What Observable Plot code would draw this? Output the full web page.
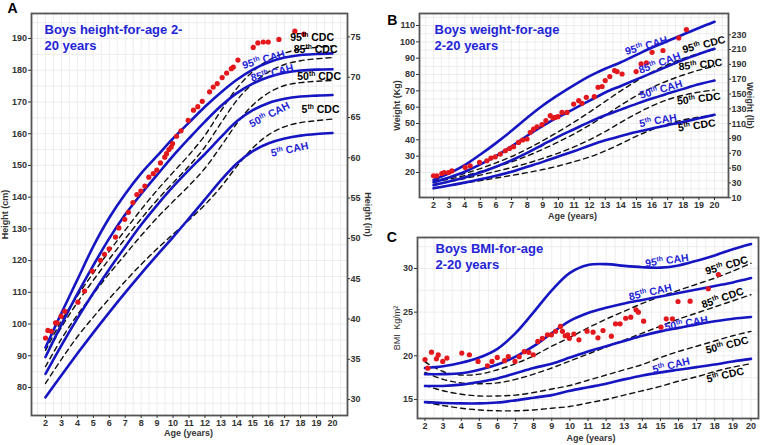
<!DOCTYPE html>
<html>
<head>
<meta charset="utf-8">
<script src="https://cdn.jsdelivr.net/npm/d3@7"></script>
<script src="https://cdn.jsdelivr.net/npm/@observablehq/plot@0.6"></script>
<style>
  html, body { margin: 0; padding: 0; background: #fff; }
  #fig { position: relative; width: 760px; height: 445px; overflow: hidden; background: #fff; }
  #fig > svg { position: absolute; }
</style>
</head>
<body>
<div id="fig"></div>
<script>
// ---- reference curves, one value per year of age (2..20) ----
const AGE = d3.range(2, 21);

// Height-for-age (cm)
const heightCAH5  = [76.9, 83.9, 90.7, 97.3, 103.7, 109.9, 115.9, 121.7, 127.4, 133.3, 139.3, 145.3, 150.6, 154.5, 157.0, 158.5, 159.4, 159.9, 160.2];
const heightCAH50 = [84.3, 93.3, 101.8, 109.8, 117.3, 124.4, 131.3, 137.5, 143.3, 148.6, 153.6, 158.9, 163.9, 167.4, 169.7, 171.0, 171.7, 172.0, 172.2];
const heightCAH85 = [89.6, 99.8, 109.5, 118.5, 127.0, 134.5, 141.0, 147.0, 153.0, 158.5, 163.8, 168.7, 172.8, 175.8, 177.9, 179.2, 179.9, 180.2, 180.3];
const heightCAH95 = [92.6, 103.5, 114.0, 124.5, 133.5, 141.0, 147.5, 153.0, 158.5, 163.5, 168.5, 173.0, 177.0, 180.2, 182.5, 184.0, 184.8, 185.1, 185.3];
const heightCDC5  = [81.3, 88.9, 96.0, 102.2, 108.0, 113.5, 118.8, 123.7, 128.3, 132.8, 137.6, 143.2, 149.7, 155.5, 159.7, 162.2, 163.5, 164.1, 164.6];
const heightCDC50 = [86.6, 95.3, 102.9, 109.5, 115.9, 121.9, 127.9, 133.5, 138.6, 143.6, 149.1, 156.0, 163.2, 169.0, 172.9, 175.2, 176.1, 176.5, 176.8];
const heightCDC85 = [89.8, 99.0, 106.8, 113.8, 120.5, 126.9, 133.2, 139.1, 144.5, 149.8, 155.8, 163.3, 170.5, 175.8, 179.5, 181.8, 183.0, 183.6, 184.0];
const heightCDC95 = [91.7, 101.0, 108.9, 116.1, 123.0, 129.6, 136.1, 142.2, 147.8, 153.3, 159.5, 167.2, 174.3, 179.6, 183.2, 185.4, 186.6, 187.2, 187.6];

// Weight-for-age (kg)
const weightCAH5  = [10.3, 12.0, 13.8, 15.8, 18.0, 20.5, 23.5, 26.5, 29.8, 33.0, 36.5, 39.7, 42.3, 44.8, 47.0, 49.0, 51.0, 53.2, 55.3];
const weightCAH50 = [12.2, 14.5, 17.0, 20.0, 23.5, 27.5, 32.0, 37.0, 42.0, 46.5, 51.0, 55.0, 58.5, 62.0, 65.3, 68.3, 71.2, 74.0, 76.3];
const weightCAH85 = [14.0, 17.0, 20.5, 25.0, 30.0, 36.0, 42.5, 48.5, 54.0, 59.0, 64.0, 69.0, 73.0, 77.0, 81.0, 85.0, 89.0, 92.5, 95.7];
const weightCAH95 = [15.5, 19.5, 24.5, 31.0, 38.0, 45.5, 53.5, 61.0, 67.5, 73.5, 79.0, 83.5, 87.5, 92.0, 96.5, 100.5, 104.5, 108.5, 112.3];
const weightCDC5  = [10.6, 12.1, 13.6, 15.0, 16.6, 18.2, 19.9, 21.8, 24.0, 26.6, 29.5, 33.2, 37.6, 42.2, 46.3, 49.7, 52.2, 53.9, 55.0];
const weightCDC50 = [12.7, 14.3, 16.3, 18.4, 20.7, 23.0, 25.6, 28.6, 31.9, 35.7, 40.0, 45.1, 50.7, 56.0, 60.8, 64.6, 67.3, 69.2, 70.6];
const weightCDC85 = [14.1, 15.9, 18.1, 20.6, 23.4, 26.5, 30.1, 34.2, 38.7, 43.6, 49.0, 55.0, 61.2, 67.0, 72.0, 76.2, 79.7, 82.7, 85.0];
const weightCDC95 = [15.2, 16.9, 19.4, 22.4, 25.9, 29.8, 34.4, 39.5, 45.0, 50.8, 57.0, 63.5, 70.0, 76.0, 81.5, 86.0, 89.8, 92.8, 95.3];

// BMI-for-age (kg/m²)
const bmiCAH5  = [14.7, 14.6, 14.55, 14.55, 14.65, 14.9, 15.2, 15.5, 16.0, 16.4, 16.8, 17.3, 17.75, 18.1, 18.4, 18.7, 19.0, 19.35, 19.65];
const bmiCAH50 = [16.55, 16.55, 16.7, 17.0, 17.4, 18.0, 18.6, 19.1, 19.8, 20.5, 21.1, 21.7, 22.3, 22.8, 23.2, 23.6, 23.95, 24.25, 24.45];
const bmiCAH85 = [17.9, 17.9, 18.0, 18.4, 19.0, 19.9, 21.1, 22.6, 24.0, 24.9, 25.5, 26.0, 26.4, 26.8, 27.2, 27.6, 28.0, 28.4, 28.9];
const bmiCAH95 = [18.6, 18.8, 19.2, 19.8, 20.8, 22.6, 25.0, 27.5, 29.5, 30.4, 30.5, 30.3, 30.15, 30.1, 30.35, 30.9, 31.5, 32.2, 32.8];
const bmiCDC5  = [14.7, 14.3, 14.0, 13.8, 13.7, 13.7, 13.8, 14.0, 14.2, 14.6, 15.0, 15.5, 16.0, 16.5, 17.1, 17.6, 18.2, 18.7, 19.1];
const bmiCDC50 = [16.6, 16.0, 15.6, 15.4, 15.4, 15.5, 15.8, 16.2, 16.6, 17.2, 17.8, 18.4, 19.0, 19.8, 20.5, 21.1, 21.7, 22.3, 22.8];
const bmiCDC85 = [18.1, 17.3, 16.9, 16.8, 16.9, 17.3, 17.9, 18.6, 19.4, 20.2, 21.0, 21.8, 22.6, 23.4, 24.2, 24.9, 25.6, 26.3, 27.0];
const bmiCDC95 = [19.3, 18.2, 17.8, 17.9, 18.4, 19.1, 20.0, 21.1, 22.1, 23.2, 24.2, 25.1, 26.0, 26.8, 27.5, 28.2, 28.9, 29.7, 30.6];

// ---- patient measurements ----
const visitAge = [2.0, 2.15, 2.36, 2.63, 2.73, 2.98, 3.21, 4.03, 4.45, 4.93, 5.45, 5.70, 5.99, 6.39, 6.6, 6.97, 7.2, 7.48, 7.73, 7.98,
  8.23, 8.48, 8.76, 8.98, 9.21, 9.48, 9.59, 9.74, 9.88, 9.97, 10.22, 10.5, 10.95, 11.28, 11.55, 11.83, 12.29, 12.52, 12.77, 13.08,
  13.36, 13.65, 13.78, 14.07, 15.03, 15.32, 15.66, 15.97, 16.64, 17.64, 18.2];
const heightCm = [95.6, 98.0, 97.7, 100.4, 100.4, 102.5, 104.0, 106.9, 110.4, 116.7, 120.1, 122.0, 123.7, 127.4, 130.3, 133.0, 135.2, 138.3, 140.8, 141.9,
  143.5, 146.3, 147.4, 148.5, 150.8, 152.6, 153.7, 155.0, 155.8, 156.9, 159.2, 160.9, 164.2, 167.4, 168.5, 170.2, 173.2, 174.7, 175.8, 177.7,
  179.1, 180.5, 181.0, 183.2, 187.2, 188.6, 188.9, 188.9, 189.7, 192.3, 191.4];
const bmiValue = [19.58, 18.58, 20.42, 19.65, 20.1, 19.36, 19.74, 20.31, 20.12, 19.36, 18.86, 19.36, 19.82, 19.44, 19.9, 19.36, 19.9, 20.47, 20.4, 20.12,
  21.65, 22.0, 22.4, 22.4, 22.8, 23.37, 22.8, 22.3, 22.4, 22.0, 22.5, 21.83, 22.82, 22.71, 22.06, 22.9, 22.25, 23.66, 23.66, 24.3,
  24.42, 25.27, 25.0, 23.97, 23.28, 24.24, 24.24, 26.22, 26.26, 27.68, 29.31];
const weightAge = [2.0, 2.21, 2.53, 2.68, 2.96, 3.18, 4.03, 4.35, 4.95, 5.42, 5.68, 5.96, 6.28, 6.6, 6.87, 7.13, 7.45, 7.71, 7.99, 8.2,
  8.41, 8.63, 8.95, 9.2, 9.48, 9.65, 9.8, 9.97, 10.23, 10.55, 10.98, 11.3, 11.51, 11.79, 12.3, 12.54, 12.8, 13.0, 13.29, 13.6,
  13.76, 14.08, 14.98, 15.3, 15.64, 16.0, 16.7, 17.71, 18.2];
const weightKg = [18.0, 18.0, 19.4, 20.0, 20.0, 21.0, 23.1, 24.1, 26.2, 27.2, 28.8, 29.6, 31.3, 33.3, 34.7, 35.8, 38.4, 39.9, 40.5, 44.6,
  46.6, 48.0, 49.3, 51.7, 54.8, 53.4, 53.8, 54.2, 56.8, 56.8, 61.9, 64.0, 62.4, 66.0, 66.4, 72.2, 72.6, 76.3, 78.7, 82.4,
  81.8, 80.3, 81.8, 86.5, 87.1, 93.6, 94.7, 102.4, 107.5];

// ---- axis tick values ----
const ageTicks = d3.range(2, 21);
const heightTicks = d3.range(80, 191, 10);
const inchTicks = d3.range(30, 76, 5);
const weightTicks = d3.range(20, 111, 10);
const poundTicks = d3.range(10, 231, 20);
const bmiTicks = [15, 20, 25, 30];

// ---- styling ----
const FONT = "'Liberation Sans', Arial, Helvetica, sans-serif";
const BLUE_LINE = "#1515c2";
const BLUE_TEXT = "#2424d6";
const RED = "#e3171c";
const INK = "#111";
const AXIS = "#333";

function curveTable(series) {
  return series.flatMap(([key, values]) => values.map((v, i) => ({age: AGE[i], v, key})));
}
function valueAt(values, age) {
  const i = Math.max(0, Math.min(values.length - 2, Math.floor(age - AGE[0])));
  const t = age - AGE[i];
  return values[i] * (1 - t) + values[i + 1] * t;
}
function stepsWithin([a, b], step) {
  return d3.range(Math.ceil(a / step) * step, b + 1e-9, step).filter(v => v >= a && v <= b);
}

// "95th CAH" -> 95 + raised "th" + " CAH"
function raiseOrdinals(svg) {
  const NS = "http://www.w3.org/2000/svg";
  svg.querySelectorAll("text, tspan").forEach(t => {
    if (t.children.length) return;
    const m = /^(\d+)th (.+)$/.exec(t.textContent);
    if (!m) return;
    t.textContent = "";
    const num = document.createElementNS(NS, "tspan");
    num.textContent = m[1];
    const sup = document.createElementNS(NS, "tspan");
    sup.textContent = "th";
    sup.setAttribute("font-size", "0.65em");
    sup.setAttribute("dy", "-0.55em");
    const rest = document.createElementNS(NS, "tspan");
    rest.textContent = "\u00a0" + m[2];
    rest.setAttribute("dy", "0.3575em");
    t.append(num, sup, rest);
  });
}

function panel(cfg) {
  const xd = cfg.xDomain, yd = cfg.yDomain;
  const marks = [
    Plot.gridX(stepsWithin(xd, 0.5), {stroke: "#e8e8e8", strokeOpacity: 1, strokeWidth: 0.8}),
    Plot.gridY(stepsWithin(yd, cfg.yGridStep), {stroke: "#e8e8e8", strokeOpacity: 1, strokeWidth: 0.8}),
    Plot.line(curveTable(cfg.cdc), {x: "age", y: "v", z: "key", stroke: INK, strokeWidth: 1.4,
      strokeDasharray: "5,4", curve: "catmull-rom"}),
    Plot.line(curveTable(cfg.cah), {x: "age", y: "v", z: "key", stroke: BLUE_LINE, strokeWidth: 2.6,
      curve: "catmull-rom"}),
    Plot.dot(d3.zip(cfg.pointAge, cfg.pointValue), {x: d => d[0], y: d => d[1], r: 2.6, fill: RED}),
    Plot.frame({stroke: "#555", strokeWidth: 1.8}),
    Plot.axisX(ageTicks, {anchor: "bottom", tickSize: 3, tickPadding: 1.5, fontSize: 9, fontWeight: "bold",
      color: AXIS, label: null}),
    Plot.axisY(cfg.yTicks, {anchor: "left", tickSize: 3, tickPadding: 1.5, fontSize: 9, fontWeight: "bold",
      color: AXIS, label: null}),
    // panel letter and title
    Plot.text([cfg.letter], {frameAnchor: "top-left", textAnchor: "middle", lineAnchor: "middle",
      dx: cfg.letterPos[0], dy: cfg.letterPos[1], fontSize: 14, fontWeight: "bold", fill: "#000"}),
    Plot.text([cfg.title], {frameAnchor: "top-left", textAnchor: "start", lineAnchor: "top",
      dx: cfg.titlePos[0], dy: cfg.titlePos[1], fontSize: 13, fontWeight: "bold", fill: BLUE_TEXT,
      lineHeight: cfg.titleLine}),
    // axis titles
    Plot.text(["Age (years)"], {frameAnchor: "bottom", textAnchor: "middle", lineAnchor: "middle",
      dx: cfg.xLabelPos[0], dy: cfg.xLabelPos[1], fontSize: 9, fontWeight: "bold", fill: AXIS}),
    Plot.text([cfg.yLabel], {frameAnchor: "left", textAnchor: "middle", lineAnchor: "middle",
      dx: cfg.yLabelDx, rotate: -90, fontSize: 9, fontWeight: cfg.yLabelWeight || "bold", fill: AXIS})
  ];
  if (cfg.right) {
    marks.push(
      Plot.axisY(cfg.right.ticks, {anchor: "right", tickSize: 2, tickPadding: 1, fontSize: 9, fontWeight: "bold",
        color: AXIS, label: null, tickFormat: cfg.right.format}),
      Plot.text([cfg.right.label], {frameAnchor: "right", textAnchor: "middle", lineAnchor: "middle",
        dx: cfg.right.dx, rotate: 90, fontSize: 9, fontWeight: "bold", fill: AXIS})
    );
  }
  for (const lab of cfg.labels) {
    const isCAH = lab.text.endsWith("CAH");
    marks.push(Plot.text([lab], {
      x: d => d.age, y: d => valueAt(d.values, d.age), text: d => d.text,
      rotate: lab.angle, dy: lab.dy, textAnchor: "middle",
      fontSize: 10.5, fontWeight: "bold", fill: isCAH ? BLUE_TEXT : "#000"
    }));
  }
  const svg = Plot.plot({
    width: cfg.width, height: cfg.height,
    marginTop: cfg.margin[0], marginRight: cfg.margin[1], marginBottom: cfg.margin[2], marginLeft: cfg.margin[3],
    x: {domain: xd},
    y: {domain: yd},
    style: {fontFamily: FONT, fontSize: "9px", background: "transparent", overflow: "visible"},
    marks
  });
  svg.style.left = cfg.left + "px";
  svg.style.top = cfg.top + "px";
  raiseOrdinals(svg);
  document.getElementById("fig").append(svg);
}

// A: height-for-age
panel({
  left: 0, top: 0, width: 380, height: 445, margin: [13, 33, 30, 31],
  xDomain: [1.122, 20.941], yDomain: [71.18, 197.88], yGridStep: 5, yTicks: heightTicks,
  cah: [["5", heightCAH5], ["50", heightCAH50], ["85", heightCAH85], ["95", heightCAH95]],
  cdc: [["5", heightCDC5], ["50", heightCDC50], ["85", heightCDC85], ["95", heightCDC95]],
  pointAge: visitAge, pointValue: heightCm,
  letter: "A", letterPos: [-19, -4.5],
  title: "Boys height-for-age 2-\n20 years", titlePos: [13, 8], titleLine: 1.3,
  xLabelPos: [-1, 18], yLabel: "Height (cm)", yLabelDx: -26,
  right: {ticks: inchTicks.map(d => d * 2.54), format: d => String(Math.round(d / 2.54)), label: "Height (in)", dx: 20},
  labels: [
    {text: "95th CAH", values: heightCAH95, age: 15.68, dy: -5, angle: -16},
    {text: "85th CAH", values: heightCAH85, age: 16.21, dy: -3, angle: -14},
    {text: "50th CAH", values: heightCAH50, age: 16.05, dy: 12, angle: -27},
    {text: "5th CAH", values: heightCAH5, age: 17.31, dy: 12, angle: -12},
    {text: "95th CDC", values: heightCDC95, age: 18.72, dy: -10.4, angle: 0},
    {text: "85th CDC", values: heightCDC85, age: 18.94, dy: -9.4, angle: 0},
    {text: "50th CDC", values: heightCDC50, age: 19.16, dy: -4.6, angle: 0},
    {text: "5th CDC", values: heightCDC5, age: 19.25, dy: -10.8, angle: 0}
  ]
});

// B: weight-for-age
panel({
  left: 380, top: 0, width: 380, height: 222, margin: [13, 32, 25, 39],
  xDomain: [1.103, 20.897], yDomain: [4.69, 117.35], yGridStep: 5, yTicks: weightTicks,
  cah: [["5", weightCAH5], ["50", weightCAH50], ["85", weightCAH85], ["95", weightCAH95]],
  cdc: [["5", weightCDC5], ["50", weightCDC50], ["85", weightCDC85], ["95", weightCDC95]],
  pointAge: weightAge, pointValue: weightKg,
  letter: "B", letterPos: [-27.3, 7.5],
  title: "Boys weight-for-age\n2-20 years", titlePos: [15, 8], titleLine: 1.3,
  xLabelPos: [-1.5, 19], yLabel: "Weight (Kg)", yLabelDx: -22,
  right: {ticks: poundTicks.map(d => d * 0.45359237), format: d => String(Math.round(d / 0.45359237)), label: "Weight (lb)", dx: 21},
  labels: [
    {text: "95th CAH", values: weightCAH95, age: 15.63, dy: -4.5, angle: -16},
    {text: "85th CAH", values: weightCAH85, age: 16.48, dy: -6.7, angle: -20},
    {text: "50th CAH", values: weightCAH50, age: 16.57, dy: -6.2, angle: -16},
    {text: "5th CAH", values: weightCAH5, age: 16.38, dy: -6.6, angle: -10},
    {text: "95th CDC", values: weightCDC95, age: 19.32, dy: -7.6, angle: -14},
    {text: "85th CDC", values: weightCDC85, age: 19.1, dy: -5, angle: -6},
    {text: "50th CDC", values: weightCDC50, age: 19.0, dy: 6.7, angle: -7},
    {text: "5th CDC", values: weightCDC5, age: 18.86, dy: 8, angle: -8}
  ]
});

// C: BMI-for-age
panel({
  left: 380, top: 222, width: 380, height: 223, margin: [15, 2, 27, 37],
  xDomain: [1.586, 20.414], yDomain: [12.82, 33.55], yGridStep: 2.5, yTicks: bmiTicks,
  cah: [["5", bmiCAH5], ["50", bmiCAH50], ["85", bmiCAH85], ["95", bmiCAH95]],
  cdc: [["5", bmiCDC5], ["50", bmiCDC50], ["85", bmiCDC85], ["95", bmiCDC95]],
  pointAge: visitAge, pointValue: bmiValue,
  letter: "C", letterPos: [-25.7, 0.2],
  title: "Boys BMI-for-age\n2-20 years", titlePos: [18, 4], titleLine: 1.25,
  xLabelPos: [3, 19.5], yLabel: "BMI\u2002Kg/m\u00b2", yLabelDx: -20, yLabelWeight: "normal",
  labels: [
    {text: "95th CAH", values: bmiCAH95, age: 15.36, dy: -6.3, angle: -8},
    {text: "85th CAH", values: bmiCAH85, age: 14.44, dy: -6.2, angle: -13},
    {text: "50th CAH", values: bmiCAH50, age: 16.43, dy: -3, angle: -10},
    {text: "5th CAH", values: bmiCAH5, age: 15.59, dy: -5.4, angle: -14},
    {text: "95th CDC", values: bmiCDC95, age: 18.65, dy: -8, angle: -16},
    {text: "85th CDC", values: bmiCDC85, age: 18.43, dy: -6.3, angle: -19},
    {text: "50th CDC", values: bmiCDC50, age: 18.68, dy: 7.8, angle: -14},
    {text: "5th CDC", values: bmiCDC5, age: 18.58, dy: 6.2, angle: -13}
  ]
});
</script>
</body>
</html>
